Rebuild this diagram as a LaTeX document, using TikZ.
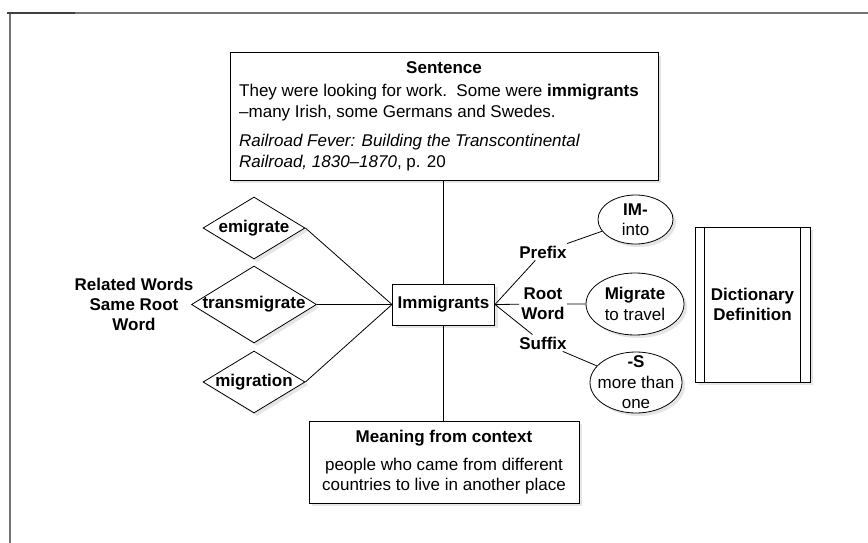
\documentclass[tikz,border=0pt]{standalone}
\usepackage{fontspec}
\setmainfont{Liberation Sans}
\usetikzlibrary{shapes.geometric,shadows}
\newcommand\lblfont{\fontsize{17}{20}\selectfont\bfseries}
\newcommand\txtfont{\fontsize{17}{20.5}\selectfont}
\begin{document}
\begin{tikzpicture}[x=1pt,y=-1pt,line cap=butt,line join=miter]
\tikzset{
shade/.style={drop shadow={shadow xshift=3pt,shadow yshift=-3pt,fill=black!20}},
box/.style={draw,line width=1pt,fill=white,shade,inner sep=4pt},
rel/.style={diamond,draw,line width=0.8pt,fill=white,shade,inner sep=0pt},
part/.style={ellipse,draw,line width=0.8pt,fill=white,shade,inner sep=0pt},
parttext/.style={align=center,inner sep=0pt,font=\txtfont},
tag/.style={align=center,inner sep=2pt,font=\lblfont},
link/.style={line width=0.8pt}
}
\useasboundingbox (0,0) rectangle (868,543);
% frame
\draw[black!55,line width=2pt] (10,543) -- (10,13) -- (868,13);
\draw[black!75,line width=2pt] (7,13) -- (75,13);
% sentence
\node[box,minimum width=428pt,minimum height=127pt] (sent) at (444,116.5) {};
\node[tag,inner sep=0pt] (senttitle) at (444,68) {Sentence};
\node[anchor=north west,align=left,inner sep=0pt,font=\txtfont] (senttext) at (239,84)
  {They were looking for work.\ \ Some were \textbf{immigrants}\\
   –many Irish, some Germans and Swedes.\\[9pt]
   \textit{Railroad Fever: Building the Transcontinental}\\
   \textit{Railroad, 1830–1870}, p. 20};
% centre word
\node[box,minimum width=102pt,minimum height=41pt,font=\lblfont] (imm) at (443.5,304.5) {Immigrants};
% meaning
\node[box,minimum width=270pt,minimum height=82pt] (mean) at (444,462) {};
\node[tag,inner sep=0pt] (meantitle) at (444,438) {Meaning from context};
\node[parttext] (meantext) at (444,476) {people who came from different\\countries to live in another place};
% related words
\node[rel,minimum width=102pt,minimum height=62pt] (emig) at (254,228) {};
\node[tag,inner sep=0pt] (emigtext) at (emig) {emigrate};
\node[rel,minimum width=125pt,minimum height=77pt] (trans) at (254,304.5) {};
\node[tag,inner sep=0pt] (transtext) at (trans) {transmigrate};
\node[rel,minimum width=102pt,minimum height=62pt] (migr) at (254,382) {};
\node[tag,inner sep=0pt] (migrtext) at (migr) {migration};
\node[tag] (related) at (134,304) {Related Words\\Same Root\\Word};
% word parts
\node[tag] (pre) at (543,252) {Prefix};
\node[tag] (root) at (543,304) {Root\\Word};
\node[tag] (suf) at (543,343) {Suffix};
\node[part,minimum width=75pt,minimum height=49pt] (im) at (635.5,219.5) {};
\node[parttext] (imtext) at (im) {\textbf{IM-}\\into};
\node[part,minimum width=98pt,minimum height=62pt] (mig) at (635,304) {};
\node[parttext] (migtext) at (mig) {\textbf{Migrate}\\to travel};
\node[part,minimum width=92pt,minimum height=61pt] (sfx) at (636,382.5) {};
\node[parttext] (sfxtext) at (sfx) {\textbf{-S}\\more than\\one};
% dictionary
\node[box,minimum width=115pt,minimum height=155pt,align=center,font=\lblfont] (dict) at (752.5,304.5) {Dictionary\\Definition};
\draw[link] ([xshift=10pt]dict.north west) -- ([xshift=10pt]dict.south west);
\draw[link] ([xshift=-10pt]dict.north east) -- ([xshift=-10pt]dict.south east);
% connectors
\draw[link] (sent.south -| imm.north) -- (imm.north);
\draw[link] (imm.south) -- (mean.north -| imm.south);
\foreach \w in {emig,trans,migr}
  \draw[link] (\w.east) -- (imm.west);
\draw[link] (imm.east) -- (pre) -- (im);
\draw[link] (imm.east) -- (root) -- (mig);
\draw[link] (imm.east) -- (suf) -- (sfx);
\end{tikzpicture}
\end{document}
